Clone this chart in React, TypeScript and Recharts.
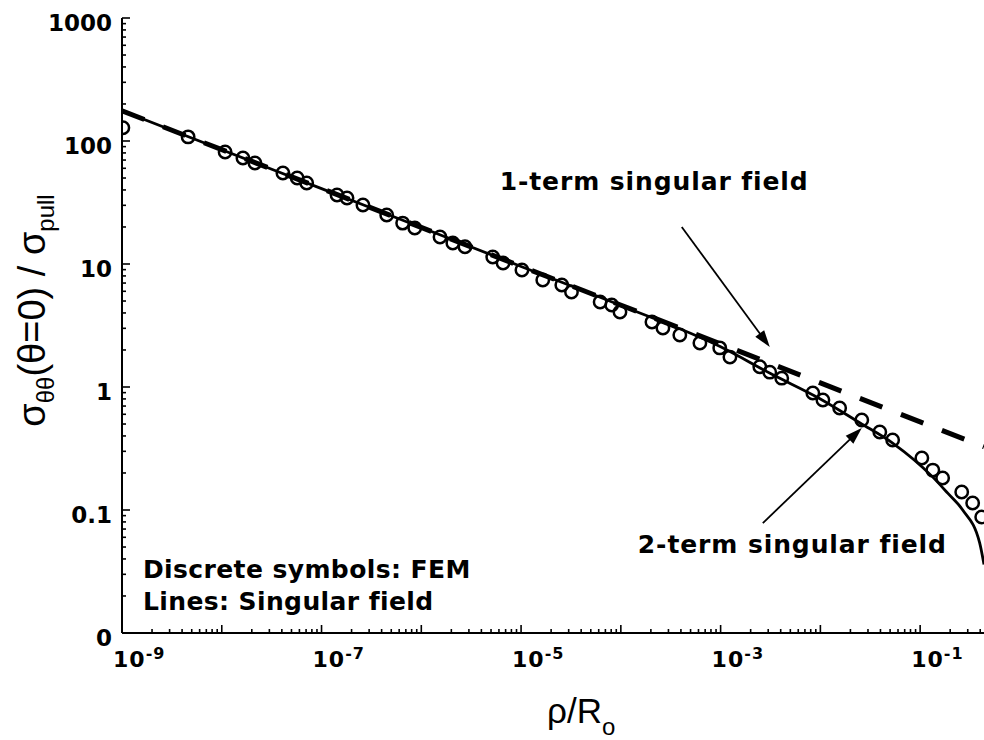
import {
  ComposedChart,
  Line,
  Scatter,
  XAxis,
  YAxis,
  ReferenceLine,
  ReferenceDot,
  Label,
} from 'recharts';

// x range runs off the right edge of the figure (~10^-0.36)
const X_MIN = 1e-9;
const X_MAX = 0.4365;
const Y_MIN = 0.01;
const Y_MAX = 1000;

// FEM results (open circles)
const femRho = [
  1.02e-9, 4.6e-9, 1.08e-8, 1.63e-8, 2.15e-8, 4.1e-8, 5.7e-8, 7.1e-8, 1.43e-7, 1.8e-7,
  2.6e-7, 4.5e-7, 6.5e-7, 8.6e-7, 1.54e-6, 2.07e-6, 2.74e-6, 5.2e-6, 6.6e-6, 1.02e-5,
  1.65e-5, 2.56e-5, 3.2e-5, 6.2e-5, 8.1e-5, 9.8e-5, 2.05e-4, 2.64e-4, 3.9e-4, 6.2e-4,
  9.8e-4, 1.24e-3, 2.47e-3, 3.11e-3, 4.1e-3, 8.4e-3, 1.06e-2, 1.56e-2, 2.6e-2, 3.94e-2,
  5.3e-2, 0.104, 0.134, 0.168, 0.261, 0.336, 0.414,
];
const femSigma = [
  128, 108, 81.5, 72.8, 66.2, 55, 50, 45.6, 36.4, 34.4,
  30.2, 25.0, 21.5, 19.6, 16.6, 14.8, 13.8, 11.4, 10.2, 8.93,
  7.41, 6.75, 5.92, 4.91, 4.64, 4.07, 3.38, 3.02, 2.65, 2.28,
  2.08, 1.75, 1.46, 1.32, 1.18, 0.893, 0.783, 0.675, 0.539, 0.431,
  0.371, 0.265, 0.211, 0.182, 0.14, 0.114, 0.0877,
];

// 1-term singular field (dashed)
const oneTermRho = [1e-9, 1e-7, 1e-5, 1e-3, 1e-2, 1e-1, 0.4365];
const oneTermSigma = [176, 41.1, 9.57, 2.24, 1.08, 0.52, 0.327];

// 2-term singular field (solid)
const twoTermRho = [1e-9, 1e-8, 1e-7, 1e-6, 1e-5, 1e-4, 1e-3, 3.2e-3, 1e-2, 2.5e-2, 5.3e-2, 0.134, 0.189, 0.267, 0.395, 0.4365];
const twoTermSigma = [176, 85, 41, 19.8, 9.55, 4.6, 2.12, 1.28, 0.8, 0.51, 0.35, 0.185, 0.137, 0.1, 0.054, 0.036];

// tick labels
const xLabelExps = [-9, -7, -5, -3, -1];
const yMajors = [0.01, 0.1, 1, 10, 100, 1000];
const yLabels = ['0', '0.1', '1', '10', '100', '1000'];

// annotations
const noteText = ['1-term singular field', '2-term singular field', 'Discrete symbols: FEM', 'Lines: Singular field'];
const noteRho = [6.1e-6, 1.48e-4, 1.62e-9, 1.62e-9];
const noteSigma = [40, 0.0447, 0.028, 0.0154];

const arrowFromRho = [4.08e-4, 2.65e-3];
const arrowFromSigma = [20.0, 0.0783];
const arrowToRho = [3.11e-3, 0.026];
const arrowToSigma = [2.11, 0.465];

const zip = (xs: number[], ys: number[]) => xs.map((rho, i) => ({ rho, sigma: ys[i] }));
const femData = zip(femRho, femSigma);
const oneTermData = zip(oneTermRho, oneTermSigma);
const twoTermData = zip(twoTermRho, twoTermSigma);

function logTicks(lo: number, hi: number) {
  const out: number[] = [];
  for (let e = Math.floor(Math.log10(lo)); e <= Math.ceil(Math.log10(hi)); e++) {
    for (let m = 1; m <= 9; m++) {
      const v = m * Math.pow(10, e);
      if (v >= lo * 0.999 && v <= hi * 1.001) out.push(v);
    }
  }
  return out;
}
const xTicks = logTicks(X_MIN, X_MAX);
const yTicks = logTicks(Y_MIN, Y_MAX);

const isMajor = (v: number) => {
  const lg = Math.log10(v);
  return Math.abs(lg - Math.round(lg)) < 1e-6;
};

const TICK_FONT = '"DejaVu Sans", Arial, sans-serif';
const TITLE_FONT = '"Liberation Sans", Arial, sans-serif';

function XTickBottom(props: any) {
  const { x, y, payload } = props;
  const v = payload.value;
  const major = isMajor(v);
  const len = major ? 8 : 4;
  const e = Math.round(Math.log10(v));
  const showLabel = major && xLabelExps.includes(e);
  return (
    <g>
      <line x1={x} y1={y} x2={x} y2={y - len} stroke="#000" strokeWidth={1.6} />
      {showLabel && (
        <text x={x - 9} y={y + 34} fontFamily={TICK_FONT} fontWeight="bold" fontSize={22} fill="#000" letterSpacing={1}>
          10
          <tspan fontSize={16} dy={-8}>{`-${Math.abs(e)}`}</tspan>
        </text>
      )}
    </g>
  );
}

function XTickTop(props: any) {
  const { x, y, payload } = props;
  const len = isMajor(payload.value) ? 8 : 4;
  return <line x1={x} y1={y} x2={x} y2={y + len} stroke="#000" strokeWidth={1.6} />;
}

function YTick(props: any) {
  const { x, y, payload } = props;
  const v = payload.value;
  const major = isMajor(v);
  const len = major ? 8 : 4;
  const idx = yMajors.findIndex((m) => Math.abs(Math.log10(m) - Math.log10(v)) < 1e-6);
  return (
    <g>
      <line x1={x} y1={y} x2={x + len} y2={y} stroke="#000" strokeWidth={1.6} />
      {idx >= 0 && (
        <text x={x - 10} y={y + 13} textAnchor="end" fontFamily={TICK_FONT} fontWeight="bold" fontSize={23} fill="#000">
          {yLabels[idx]}
        </text>
      )}
    </g>
  );
}

function Ring(props: any) {
  const { cx, cy } = props;
  if (cx == null || cy == null) return <g />;
  return <circle cx={cx} cy={cy} r={6.2} fill="none" stroke="#000" strokeWidth={2.5} />;
}

function Arrow(props: any) {
  const { x1, y1, x2, y2 } = props;
  const a = Math.atan2(y2 - y1, x2 - x1);
  const c = Math.cos(a);
  const s = Math.sin(a);
  const L = 17;
  const W = 5.5;
  const bx = x2 - L * c;
  const by = y2 - L * s;
  return (
    <g>
      <line x1={x1} y1={y1} x2={bx + 2 * c} y2={by + 2 * s} stroke="#000" strokeWidth={1.8} />
      <polygon points={`${x2},${y2} ${bx - W * s},${by + W * c} ${bx + W * s},${by - W * c}`} fill="#000" />
    </g>
  );
}

const noteShape = (text: string) => (props: any) => (
  <text
    x={props.cx}
    y={props.cy}
    fontFamily={TICK_FONT}
    fontWeight="bold"
    fontSize={25}
    letterSpacing={text.startsWith('Discrete') || text.startsWith('Lines') ? 0.4 : 0.9}
    fill="#000"
  >
    {text}
  </text>
);

function YTitle(props: any) {
  const vb = props.viewBox;
  const cx = vb.x + 45;
  const cy = vb.y + vb.height / 2 - 15;
  return (
    <text transform={`rotate(-90 ${cx} ${cy})`} x={cx} y={cy} textAnchor="middle" fontFamily={TITLE_FONT} fontSize={38} fill="#000">
      σ<tspan fontSize={24} dy={9}>θθ</tspan>
      <tspan dy={-9}>(θ=0) / σ</tspan>
      <tspan fontSize={24} dy={9}>pull</tspan>
    </text>
  );
}

function XTitle(props: any) {
  const vb = props.viewBox;
  return (
    <text x={vb.x + 425} y={vb.y + 90} fontFamily={TITLE_FONT} fontSize={35} fill="#000">
      ρ/R<tspan fontSize={24} dy={12}>o</tspan>
    </text>
  );
}

export default function App() {
  return (
    <div style={{ position: 'absolute', left: 0, top: 0, width: 984, height: 740, overflow: 'hidden', background: '#fff' }}>
      <ComposedChart width={984} height={740} margin={{ top: 18, right: 0, bottom: 47, left: 0 }}>
        <XAxis
          dataKey="rho"
          type="number"
          scale="log"
          domain={[X_MIN, X_MAX]}
          allowDataOverflow
          ticks={xTicks}
          interval={0}
          height={60}
          tickSize={0}
          tickMargin={0}
          tickLine={false}
          axisLine={{ stroke: '#000', strokeWidth: 2 }}
          tick={(p: any) => <XTickBottom {...p} />}
        >
          <Label content={XTitle} />
        </XAxis>
        <XAxis
          xAxisId="top"
          orientation="top"
          dataKey="rho"
          type="number"
          scale="log"
          domain={[X_MIN, X_MAX]}
          allowDataOverflow
          ticks={xTicks}
          interval={0}
          height={0}
          tickSize={0}
          tickMargin={0}
          tickLine={false}
          axisLine={{ stroke: '#000', strokeWidth: 2 }}
          tick={(p: any) => <XTickTop {...p} />}
        />
        <YAxis
          dataKey="sigma"
          type="number"
          scale="log"
          domain={[Y_MIN, Y_MAX]}
          allowDataOverflow
          ticks={yTicks}
          interval={0}
          width={122}
          tickSize={0}
          tickMargin={0}
          tickLine={false}
          axisLine={{ stroke: '#000', strokeWidth: 2 }}
          tick={(p: any) => <YTick {...p} />}
        >
          <Label content={YTitle} />
        </YAxis>

        <Line
          data={oneTermData}
          dataKey="sigma"
          type="linear"
          stroke="#000"
          strokeWidth={5}
          strokeDasharray="24 20"
          dot={false}
          activeDot={false}
          isAnimationActive={false}
        />
        <Line
          data={twoTermData}
          dataKey="sigma"
          type="monotone"
          stroke="#000"
          strokeWidth={2.8}
          dot={false}
          activeDot={false}
          isAnimationActive={false}
        />
        <Scatter data={femData} dataKey="sigma" shape={Ring} isAnimationActive={false} />

        {arrowFromRho.map((r, i) => (
          <ReferenceLine
            key={`arrow-${i}`}
            segment={[
              { x: r, y: arrowFromSigma[i] },
              { x: arrowToRho[i], y: arrowToSigma[i] },
            ]}
            shape={Arrow}
          />
        ))}
        {noteText.map((t, i) => (
          <ReferenceDot key={`note-${i}`} x={noteRho[i]} y={noteSigma[i]} r={1} shape={noteShape(t)} />
        ))}
      </ComposedChart>
    </div>
  );
}
